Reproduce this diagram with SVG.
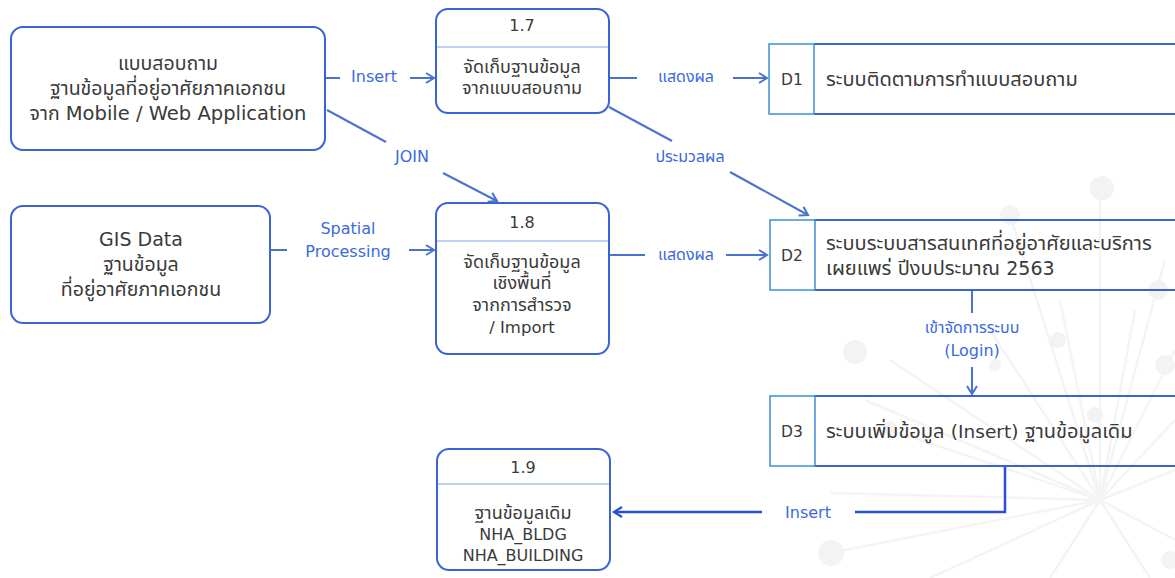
<svg xmlns="http://www.w3.org/2000/svg" width="1175" height="578" viewBox="0 0 1175 578">
<defs>
<style>
.box{fill:#fff;stroke:#3a63d6;stroke-width:2}
.div{stroke:#7c9fe6;stroke-width:1.2}
.cell{fill:#fff;stroke:#3c8fd8;stroke-width:1.5}
.edge{stroke:#3a63d6;stroke-width:2}
.t{font-family:"DejaVu Sans","Noto Sans Thai","Noto Sans",sans-serif;fill:#3a3a3a;text-anchor:middle}
.tl{font-family:"DejaVu Sans","Noto Sans Thai","Noto Sans",sans-serif;fill:#3a3a3a}
.lb{font-family:"DejaVu Sans","Noto Sans Thai","Noto Sans",sans-serif;fill:#3b6ae0;text-anchor:middle;font-size:16px}
.c{stroke:#4a72d0;stroke-width:2;fill:none}
.bg line{stroke:#f4f4f4;stroke-width:2.5}
.bg circle{fill:#f3f3f3}
</style>
<marker id="arr" markerWidth="12" markerHeight="12" refX="9" refY="6" orient="auto" markerUnits="userSpaceOnUse">
<path d="M1,1 L9,6 L1,11" fill="none" stroke="#4a72d0" stroke-width="2"/>
</marker>
<marker id="arr2" markerWidth="12" markerHeight="12" refX="9" refY="6" orient="auto" markerUnits="userSpaceOnUse">
<path d="M1,1 L9,6 L1,11" fill="none" stroke="#2a4fd6" stroke-width="2.2"/>
</marker>
</defs>
<rect width="1175" height="578" fill="#fff"/>
<g class="bg">
<line x1="1100" y1="500" x2="1100" y2="185"/><circle cx="1102" cy="188" r="12"/>
<line x1="1100" y1="500" x2="1010" y2="215"/><circle cx="1010" cy="215" r="10"/>
<line x1="1100" y1="500" x2="1165" y2="260"/><circle cx="1158" cy="290" r="10"/>
<line x1="1100" y1="500" x2="1175" y2="350"/><circle cx="1165" cy="365" r="10"/>
<line x1="1100" y1="500" x2="890" y2="360"/><circle cx="855" cy="352" r="12"/>
<line x1="1100" y1="500" x2="865" y2="400"/>
<line x1="1100" y1="500" x2="890" y2="430"/><circle cx="890" cy="428" r="7"/>
<line x1="1100" y1="500" x2="830" y2="493"/>
<line x1="1100" y1="500" x2="830" y2="553"/><circle cx="831" cy="553" r="13"/>
<line x1="1100" y1="500" x2="930" y2="578"/>
<line x1="1100" y1="500" x2="1050" y2="578"/>
<line x1="1100" y1="500" x2="1150" y2="578"/>
<line x1="1100" y1="500" x2="1175" y2="540"/><circle cx="1170" cy="560" r="9"/>
<line x1="1100" y1="500" x2="1175" y2="470"/>
<line x1="1100" y1="500" x2="1060" y2="300"/><circle cx="1058" cy="340" r="8"/>
<line x1="1100" y1="500" x2="1135" y2="310"/><circle cx="1095" cy="415" r="8"/>
<line x1="1100" y1="500" x2="990" y2="330"/><circle cx="995" cy="365" r="6"/>
<line x1="1100" y1="500" x2="1175" y2="420"/>
</g>
<g id="connectors">
<line class="c" x1="325" y1="78" x2="340" y2="78"/>
<line class="c" x1="410" y1="78" x2="434" y2="78" marker-end="url(#arr)"/>
<text class="lb" x="374" y="82">Insert</text>
<line class="c" x1="327" y1="110" x2="386" y2="142"/>
<line class="c" x1="443" y1="173" x2="497" y2="201" marker-end="url(#arr)"/>
<text class="lb" x="412" y="162">JOIN</text>
<line class="c" x1="270" y1="250" x2="287" y2="250"/>
<line class="c" x1="409" y1="250" x2="434" y2="250" marker-end="url(#arr)"/>
<text class="lb" x="348" y="234">Spatial</text>
<text class="lb" x="348" y="257">Processing</text>
<line class="c" x1="609" y1="78" x2="637" y2="78"/>
<line class="c" x1="733" y1="78" x2="767" y2="78" marker-end="url(#arr)"/>
<text class="lb" x="686" y="82">แสดงผล</text>
<line class="c" x1="609" y1="107" x2="672" y2="141"/>
<line class="c" x1="730" y1="172" x2="808" y2="215" marker-end="url(#arr)"/>
<text class="lb" x="690" y="162" font-size="17">ประมวลผล</text>
<line class="c" x1="609" y1="255" x2="645" y2="255"/>
<line class="c" x1="726" y1="255" x2="767" y2="255" marker-end="url(#arr)"/>
<text class="lb" x="686" y="260">แสดงผล</text>
<line class="c" x1="972" y1="290" x2="972" y2="313"/>
<line class="c" x1="972" y1="367" x2="972" y2="394" marker-end="url(#arr)"/>
<text class="lb" x="972" y="333" font-size="17.5">เข้าจัดการระบบ</text>
<text class="lb" x="972" y="356">(Login)</text>
<path d="M1005,467 V512 H855" fill="none" stroke="#2a4fd6" stroke-width="2.5"/>
<line x1="762" y1="512" x2="614" y2="512" stroke="#2a4fd6" stroke-width="2.5" marker-end="url(#arr2)"/>
<text class="lb" x="808" y="518">Insert</text>
</g>
<g id="ext-questionnaire">
<rect class="box" x="11" y="27" width="314" height="123" rx="12"/>
<text class="t" x="168" y="70" font-size="19.5">แบบสอบถาม</text>
<text class="t" x="168" y="95" font-size="19.5">ฐานข้อมูลที่อยู่อาศัยภาคเอกชน</text>
<text class="t" x="168" y="120" font-size="19.5">จาก Mobile / Web Application</text>
</g>
<g id="ext-gis">
<rect class="box" x="11" y="206" width="259" height="117" rx="12"/>
<text class="t" x="141" y="246" font-size="19">GIS Data</text>
<text class="t" x="141" y="271" font-size="19.5">ฐานข้อมูล</text>
<text class="t" x="141" y="296" font-size="19.5">ที่อยู่อาศัยภาคเอกชน</text>
</g>
<g id="p17">
<rect class="box" x="436" y="9" width="173" height="104" rx="12"/>
<line class="div" x1="437" y1="47" x2="608" y2="47"/>
<text class="t" x="522" y="31" font-size="16">1.7</text>
<text class="t" x="522" y="73" font-size="18">จัดเก็บฐานข้อมูล</text>
<text class="t" x="522" y="94" font-size="18">จากแบบสอบถาม</text>
</g>
<g id="p18">
<rect class="box" x="436" y="203" width="173" height="151" rx="12"/>
<line class="div" x1="437" y1="241" x2="608" y2="241"/>
<text class="t" x="522" y="228" font-size="16">1.8</text>
<text class="t" x="522" y="268" font-size="18">จัดเก็บฐานข้อมูล</text>
<text class="t" x="522" y="289" font-size="18">เชิงพื้นที่</text>
<text class="t" x="522" y="311" font-size="18">จากการสำรวจ</text>
<text class="t" x="522" y="333" font-size="16.5">/ Import</text>
</g>
<g id="p19">
<rect class="box" x="437" y="449" width="173" height="121" rx="12"/>
<line class="div" x1="438" y1="484" x2="609" y2="484"/>
<text class="t" x="523" y="473" font-size="16">1.9</text>
<text class="t" x="523" y="519" font-size="18">ฐานข้อมูลเดิม</text>
<text class="t" x="523" y="540" font-size="16">NHA_BLDG</text>
<text class="t" x="523" y="561" font-size="16">NHA_BUILDING</text>
</g>
<g id="d1">
<line class="edge" x1="814" y1="44" x2="1180" y2="44"/>
<line class="edge" x1="814" y1="114" x2="1180" y2="114"/>
<rect class="cell" x="769" y="44" width="45" height="70"/>
<text class="t" x="792" y="85" font-size="15.5">D1</text>
<text class="tl" x="826" y="86" font-size="20">ระบบติดตามการทำแบบสอบถาม</text>
</g>
<g id="d2">
<line class="edge" x1="814" y1="220" x2="1180" y2="220"/>
<line class="edge" x1="814" y1="290" x2="1180" y2="290"/>
<rect class="cell" x="770" y="220" width="45" height="70"/>
<text class="t" x="792" y="261" font-size="15.5">D2</text>
<text class="tl" x="826" y="250" font-size="20">ระบบระบบสารสนเทศที่อยู่อาศัยและบริการ</text>
<text class="tl" x="826" y="275" font-size="20">เผยแพร่ ปีงบประมาณ <tspan font-size="19">2563</tspan></text>
</g>
<g id="d3">
<line class="edge" x1="814" y1="396" x2="1180" y2="396"/>
<line class="edge" x1="814" y1="466" x2="1180" y2="466"/>
<rect class="cell" x="770" y="396" width="45" height="70"/>
<text class="t" x="792" y="437" font-size="15.5">D3</text>
<text class="tl" x="826" y="438" font-size="20">ระบบเพิ่มข้อมูล <tspan font-size="18.5">(Insert)</tspan> ฐานข้อมูลเดิม</text>
</g>
</svg>
